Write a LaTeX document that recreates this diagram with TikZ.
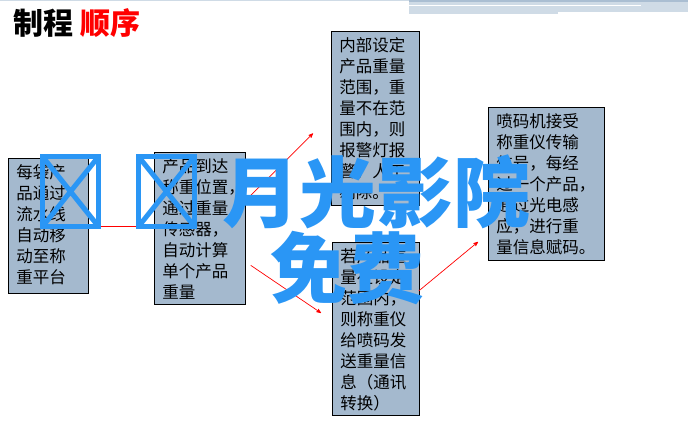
\documentclass[tikz,border=0pt]{standalone}
\usepackage{fontspec}
\usepackage{tikz}
\usetikzlibrary{arrows}
\newfontfamily\cjk{Noto Sans CJK SC}
\definecolor{boxblue}{RGB}{164,185,206}
\definecolor{markblue}{RGB}{42,150,245}
\definecolor{barblue}{RGB}{207,219,230}
\definecolor{bardark}{RGB}{170,190,210}
\newcommand{\boxtext}[3]{\parbox[c][#2pt][t]{#1pt}{\raggedright #3}}

\begin{document}
\begin{tikzpicture}[x=1pt,y=-1pt,>=stealth',semithick]
  \tikzstyle{stepbox}=[draw=black,fill=boxblue,line width=0.8pt,anchor=north west,
                       inner xsep=8pt,inner ysep=6pt,font=\cjk\fontsize{16.5}{21}\selectfont]
  \tikzstyle{flow}=[->,draw=red,line width=0.7pt]
  \tikzstyle{wmark}=[text=markblue,inner sep=0pt,anchor=west,
                     font=\cjk\bfseries\fontsize{77}{77}\selectfont]

  \useasboundingbox (0,0) rectangle (688,444);

  % header bar
  \fill[barblue] (0,0) rectangle (688,1.5);
  \fill[barblue] (409,0) rectangle (688,12);
  \fill[barblue] (409,12) rectangle (558,14);
  \fill[bardark] (409,0) rectangle (688,2);
  \fill[white] (409,5) rectangle (641,6.5);

  \node[anchor=west,inner sep=0pt,font=\cjk\bfseries\fontsize{30}{30}\selectfont]
       (title) at (13,23) {制程 \textcolor{red}{顺序}};

  \node[stepbox] (feed)  at (8,158)
       {\boxtext{64}{123}{每袋产\\品通过\\流水线\\自动移\\动至称\\重平台}};
  \node[stepbox] (weigh) at (154,152)
       {\boxtext{75}{140}{产品到达\\称重位置，\\通过重量\\传感器，\\自动计算\\单个产品\\重量}};
  \node[stepbox] (alarm) at (331,31)
       {\boxtext{72}{162}{内部设定\\产品重量\\范围，重\\量不在范\\围内，则\\报警灯报\\警，人工\\剔除。}};
  \node[stepbox] (send)  at (332,242)
       {\boxtext{71}{161}{若产品重\\量在设定\\范围内，\\则称重仪\\给喷码发\\送重量信\\息（通讯\\转换）}};
  \node[stepbox] (code)  at (488,107)
       {\boxtext{100}{141}{喷码机接受\\称重仪传输\\信号，每经\\过一个产品，\\通过光电感\\应，进行重\\量信息赋码。}};

  \path (feed.east) edge[flow] (feed.east -| weigh.west)
        ([shift={(5,-33)}]weigh.east) edge[flow] ([shift={(-18,15)}]alarm.west)
        ([shift={(5,37)}]weigh.east) edge[flow] ([shift={(-11,-16)}]send.west)
        ([shift={(-1,-38)}]send.east) edge[flow] ([shift={(-10,58)}]code.west);

  % overlay
  \foreach \x in {40,136} {
    \draw[markblue,line width=5pt] (\x+2.5,156.5) rectangle (\x+58.5,226.5);
    \draw[markblue,line width=5pt] (\x+2.5,156.5) -- (\x+58.5,226.5)
                                   (\x+2.5,226.5) -- (\x+58.5,156.5);
  }
  \node[wmark] (wmtop)    at (222,192) {月光影院};
  \node[wmark] (wmbottom) at (270,268) {免费};
\end{tikzpicture}
\end{document}
